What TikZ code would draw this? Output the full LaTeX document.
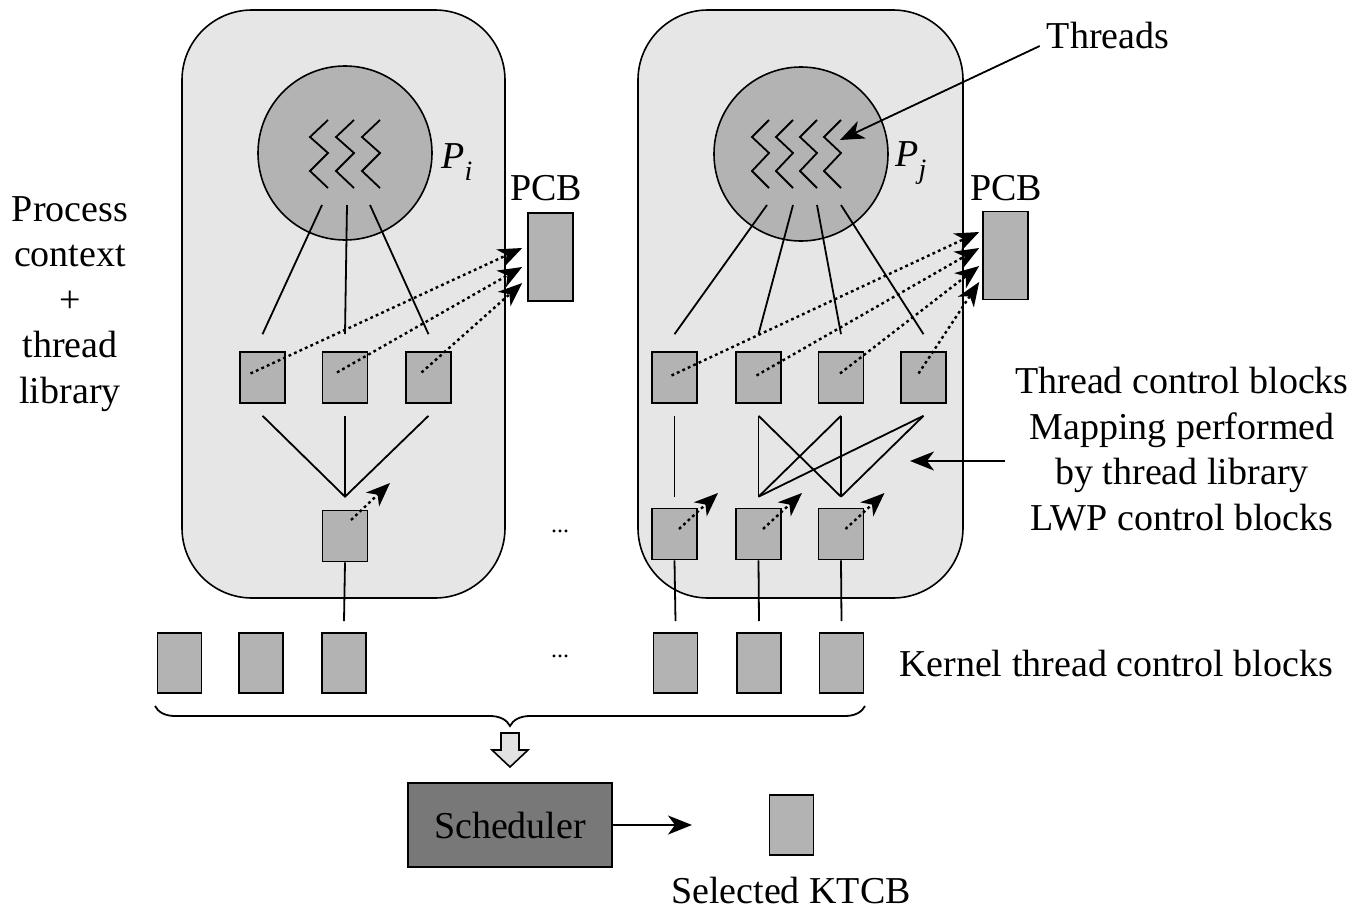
\documentclass[tikz,border=0pt]{standalone}
\usepackage{fontspec}
\setmainfont{Liberation Serif}
\usetikzlibrary{calc,arrows.meta,decorations.pathreplacing}
\definecolor{boxbg}{HTML}{E6E6E6}
\definecolor{blk}{HTML}{B3B3B3}
\definecolor{schedc}{HTML}{787878}
\definecolor{hollow}{HTML}{E2E2E2}
\begin{document}
\begin{tikzpicture}[x=0.5pt,y=-0.5pt,
  every node/.style={font=\fontsize{19}{22.75}\selectfont},
  proc/.style={draw, fill=boxbg, rounded corners=35pt, line width=0.8pt, inner sep=0},
  circ/.style={circle, draw, fill=blk, line width=0.8pt, minimum size=87pt, inner sep=0},
  tcb/.style={draw, fill=blk, line width=0.8pt, minimum width=22.5pt, minimum height=25.5pt, inner sep=0},
  ktcb/.style={draw, fill=blk, line width=0.8pt, minimum width=22pt, minimum height=30pt, inner sep=0},
  pcbbox/.style={draw, fill=blk, line width=0.8pt, minimum width=22.5pt, minimum height=44pt, inner sep=0},
  link/.style={line width=0.9pt},
  dots/.style={line width=1.2pt, dash pattern=on 1.4pt off 1.6pt},
  tip/.style={-{Stealth[length=12pt,width=9.5pt,inset=3.5pt]}},
  lbl/.style={align=center, inner sep=0},
  ]
\useasboundingbox (0,0) rectangle (1357,910);

% process boxes
\node[proc, minimum width=161.5pt, minimum height=294pt] (pL) at (343.5,304) {};
\node[proc, minimum width=162.5pt, minimum height=294pt] (pR) at (800.5,304) {};

% circles
\node[circ] (cL) at (345,153) {};
\node[circ] (cR) at (801,154) {};
\foreach \x in {310,336,362}
  \draw[line width=0.9pt] (\x+18,120) -- (\x,137) -- (\x+18,153) -- (\x,171) -- (\x+18,188);
\foreach \x in {752,776,800,824}
  \draw[line width=0.9pt] (\x+17,120) -- (\x,137) -- (\x+17,153) -- (\x,171) -- (\x+17,188);
\node (Pi) at (457,162) {\textit{P}\raisebox{-0.3em}{\fontsize{14}{14}\selectfont\textit{i}}};
\node (Pj) at (911,163) {\textit{P}\raisebox{-0.3em}{\fontsize{14}{14}\selectfont\textit{j}}};

% PCBs
\node[pcbbox] (pcbL) at (550.5,257) {};
\node[pcbbox] (pcbR) at (1005.5,255.5) {};
\node (pcbLl) at (546,188) {PCB};
\node (pcbRl) at (1006,188) {PCB};

% thread control blocks
\node[tcb] (tL1) at (262.5,377.5) {};
\node[tcb] (tL2) at (345,377.5) {};
\node[tcb] (tL3) at (428.5,377.5) {};
\node[tcb] (tR1) at (674.5,377.5) {};
\node[tcb] (tR2) at (758.5,377.5) {};
\node[tcb] (tR3) at (841,377.5) {};
\node[tcb] (tR4) at (923.5,377.5) {};

% LWP control blocks
\node[tcb] (lL) at (345,536) {};
\node[tcb] (lR1) at (674.5,534) {};
\node[tcb] (lR2) at (758.5,534) {};
\node[tcb] (lR3) at (841,534) {};

% kernel thread control blocks
\node[ktcb] (k1) at (179.5,663) {};
\node[ktcb] (k2) at (261,663) {};
\node[ktcb] (k3) at (344,663) {};
\node[ktcb] (k4) at (675.5,663) {};
\node[ktcb] (k5) at (759,663) {};
\node[ktcb] (k6) at (841.5,663) {};

% circle -> TCB lines
\draw[link] ($(cL)+(-23,52)$) -- ([yshift=8.5pt]tL1.north);
\draw[link] ($(cL)+(2,52)$) -- ([yshift=8.5pt]tL2.north);
\draw[link] ($(cL)+(25,52)$) -- ([yshift=8.5pt]tL3.north);
\draw[link] ($(cR)+(-34,51)$) -- ([yshift=8.5pt]tR1.north);
\draw[link] ($(cR)+(-8,51)$) -- ([yshift=8.5pt]tR2.north);
\draw[link] ($(cR)+(16,51)$) -- ([yshift=8.5pt]tR3.north);
\draw[link] ($(cR)+(40,51)$) -- ([yshift=8.5pt]tR4.north);

% dotted TCB -> PCB
\draw[dots,tip] ($(tL1)+(-12,-4)$) -- ($(pcbL.west)+(-5,-9)$);
\draw[dots,tip] ($(tL2)+(-8,-5)$) -- ($(pcbL.west)+(-5,10)$);
\draw[dots,tip] ($(tL3)+(-7,-5)$) -- ($(pcbL.west)+(-5,26)$);
\draw[dots,tip] ($(tR1)+(-3,-2)$) -- ($(pcbR.west)+(-3,-23.5)$);
\draw[dots,tip] ($(tR2)+(-2,-2)$) -- ($(pcbR.west)+(-3,-7.5)$);
\draw[dots,tip] ($(tR3)+(-1,-4)$) -- ($(pcbR.west)+(-3,10.5)$);
\draw[dots,tip] ($(tR4)+(-5,-4)$) -- ($(pcbR.west)+(-3,26.5)$);

% mapping left
\draw[link] ([yshift=-6pt]tL1.south) -- ([yshift=6.5pt]lL.north) -- ([yshift=-6pt]tL3.south);
\draw[link] ([yshift=-6pt]tL2.south) -- ([yshift=6.5pt]lL.north);
% mapping right
\draw[link] ([yshift=-6pt]tR1.south) -- ([yshift=5.5pt]lR1.north);
\draw[link] ([yshift=-6pt]tR2.south) -- ([yshift=5.5pt]lR2.north);
\draw[link] ([yshift=-6pt]tR2.south) -- ([yshift=5.5pt]lR3.north);
\draw[link] ([yshift=-6pt]tR3.south) -- ([yshift=5.5pt]lR2.north);
\draw[link] ([yshift=-6pt]tR3.south) -- ([yshift=5.5pt]lR3.north);
\draw[link] ([yshift=-6pt]tR4.south) -- ([yshift=5.5pt]lR2.north);
\draw[link] ([yshift=-6pt]tR4.south) -- ([yshift=5.5pt]lR3.north);

% LWP dotted arrows
\draw[dots,tip] ($(lL)+(6,-16)$) -- ($(lL)+(45,-53)$);
\foreach \n in {lR1,lR2,lR3}
  \draw[dots,tip] ($(\n)+(4.5,-5)$) -- ($(\n)+(43.5,-41)$);

% LWP -> kernel
\draw[link] (lL.south) -- ([yshift=5.5pt]k3.north);
\draw[link] (lR1.south) -- ([yshift=5.5pt]k4.north);
\draw[link] (lR2.south) -- ([yshift=5.5pt]k5.north);
\draw[link] (lR3.south) -- ([yshift=5.5pt]k6.north);

% ellipses
\node[font=\fontsize{12}{14}\selectfont] (d1) at (560,531) {...};
\node[font=\fontsize{12}{14}\selectfont] (d2) at (560,656) {...};

% brace and hollow arrow
\coordinate (bl) at (155,706);
\coordinate (br) at (865,706);
\draw[decorate, decoration={brace, mirror, amplitude=10pt}, line width=0.9pt] (bl) -- (br);
\draw[fill=hollow, line width=0.8pt] (501,733) -- (519,733) -- (519,750) -- (528,750) -- (510,767) -- (492,750) -- (501,750) -- cycle;

% scheduler
\node[draw, fill=schedc, line width=0.8pt, minimum width=102pt, minimum height=42pt, inner sep=0] (sch) at (510,825) {Scheduler};
\coordinate (schend) at (692,825);
\draw[link,tip] (sch.east) -- (schend);
\node[ktcb] (sel) at (791.5,825) {};
\node (sellbl) at (791,890) {Selected KTCB};

% labels
\node (thr) at (1108,36) {Threads};
\coordinate (thrtip) at (840,140);
\draw[link,tip] ([yshift=-5pt]thr.west) -- (thrtip);

\node[lbl] (maplbl) at (1182,449) {Thread control blocks\\Mapping performed\\by thread library\\LWP control blocks};
\coordinate (mapstart) at (1005,461);
\coordinate (maptip) at (910,461);
\draw[link,tip] (mapstart) -- (maptip);

\node[lbl] (ctx) at (70,304) {Process\\context\\+\\thread\\library};
\node (klbl) at (1116,663) {Kernel thread control blocks};
\end{tikzpicture}
\end{document}
